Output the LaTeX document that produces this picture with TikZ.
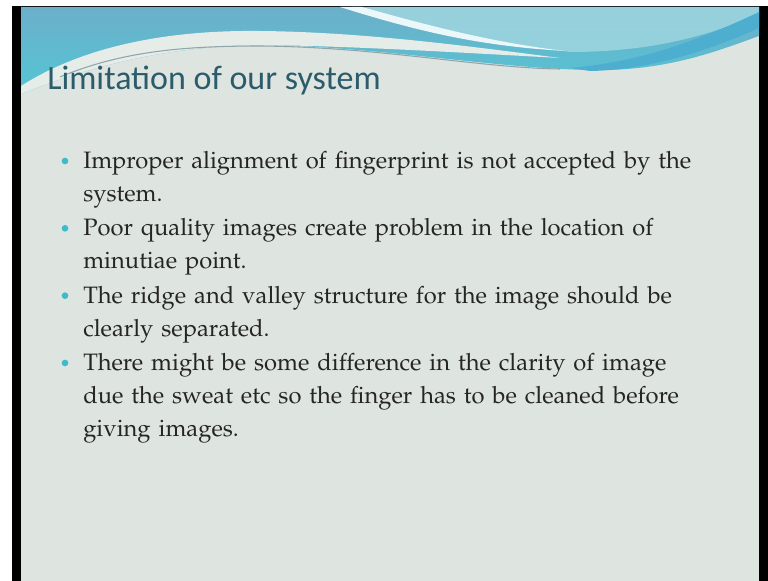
\documentclass[tikz,border=0pt]{standalone}
\usepackage[T1]{fontenc}
\usepackage{fontspec}
\newfontfamily\titlefont{Carlito}
\newcommand\bodyfont{\fontencoding{T1}\fontfamily{ppl}\selectfont}
\usetikzlibrary{positioning}
\definecolor{slidebg}{HTML}{DEE4DF}
\definecolor{sweeplight}{HTML}{E6ECE8}
\definecolor{wavetop}{HTML}{6CAFCA}
\definecolor{wavelow}{HTML}{54C6D4}
\definecolor{waveright}{HTML}{A2D8E0}
\definecolor{wavedeep}{HTML}{4EAED0}
\definecolor{sweepline}{HTML}{8FA6AC}
\definecolor{titleteal}{HTML}{2C5C6B}
\definecolor{inkgrey}{HTML}{252525}
\definecolor{dotcyan}{HTML}{3DBBCA}

\begin{document}
\begin{tikzpicture}
	[
		x = 0.75pt, y = -0.75pt,
		title/.style = {anchor = base west, inner sep = 0, text = titleteal, font = \titlefont\fontsize{25.5}{30}\selectfont},
		item/.style = {anchor = north west, inner sep = 0, align = left, text width = 470pt, text = inkgrey, font = \bodyfont\fontsize{17.8}{24.7}\selectfont},
		dot/.style = {circle, fill = dotcyan, inner sep = 0, minimum size = 5pt},
	]
	\useasboundingbox (0,0) rectangle (768,581);
	% screen frame
	\fill[white] (0,0) rectangle (768,581);
	\fill[black] (12,6) rectangle (768,581);
	\fill[slidebg] (21,7) rectangle (759,581);
	% wave on top
	\begin{scope}
		\clip (21,7) rectangle (759,581);
		\shade[top color = wavetop, bottom color = wavelow] (21,7) -- (759,7) -- (759,36)
			.. controls (720,50) and (670,70) .. (600,70)
			.. controls (500,70) and (380,46) .. (260,45)
			.. controls (160,46) and (80,70) .. (21,94) -- cycle;
		\fill[waveright, opacity = 0.8] (352,7) -- (759,7) -- (759,14)
			.. controls (700,40) and (640,52) .. (570,52)
			.. controls (480,40) and (420,26) .. (352,7) -- cycle;
		\fill[white!80!waveright] (340,7) -- (362,7)
			.. controls (430,26) and (490,42) .. (565,51)
			.. controls (480,46) and (420,32) .. (340,7) -- cycle;
		\fill[wavedeep] (570,68) .. controls (640,62) and (700,40) .. (759,12)
			-- (759,28) .. controls (710,50) and (650,70) .. (590,71) -- cycle;
		\fill[sweeplight] (21,86) .. controls (90,42) and (180,30) .. (260,31)
			.. controls (360,32) and (460,45) .. (560,58)
			.. controls (450,52) and (350,46) .. (260,45)
			.. controls (160,46) and (80,70) .. (21,94) -- cycle;
		\draw[sweepline, line width = 0.8pt] (60,77) .. controls (120,52) and (180,46) .. (260,46)
			.. controls (380,47) and (480,68) .. (560,69);
	\end{scope}
	% title and points
	\node (heading) [title] at (47,90) {Limitation of our system};
	\node (b1) [item] at (83,151) {Improper alignment of fingerprint is not accepted by the\\ system.};
	\node (b2) [item, below = 7.5pt of b1.south west, anchor = north west] {Poor quality images create problem in the location of\\ minutiae point.};
	\node (b3) [item, below = 7.5pt of b2.south west, anchor = north west] {The ridge and valley structure for the image should be\\ clearly separated.};
	\node (b4) [item, below = 7.5pt of b3.south west, anchor = north west] {There might be some difference in the clarity of image\\ due the sweat etc so the finger has to be cleaned before\\ giving images.};
	\foreach \i in {1,...,4}
		\node (d\i) [dot] at ([xshift = -13.5pt, yshift = -7.5pt]b\i.north west) {};
\end{tikzpicture}
\end{document}
